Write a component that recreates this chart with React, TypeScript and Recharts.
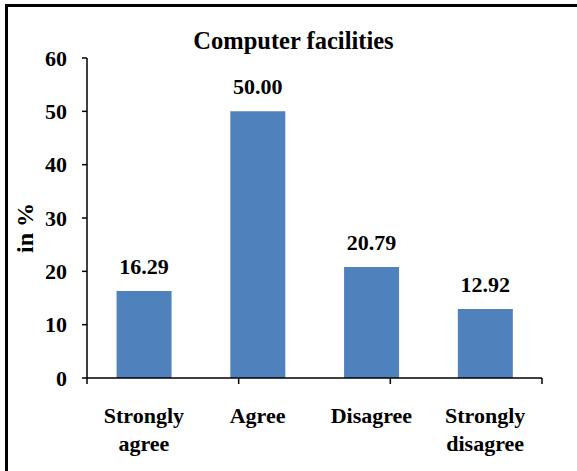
import React from 'react';
import { BarChart, Bar, XAxis, YAxis, LabelList } from 'recharts';

const categories = ['Strongly agree', 'Agree', 'Disagree', 'Strongly disagree'];
const values = [16.29, 50.0, 20.79, 12.92];
const yTicks = [0, 10, 20, 30, 40, 50, 60];
const edgeTicks = [0, 1, 2, 3, 4];
const title = 'Computer facilities';
const yLabel = 'in %';

const data = categories.map((c, i) => ({ name: c, value: values[i] }));

const FONT = "Liberation Serif, Times New Roman, serif";
const textStyle: React.CSSProperties = { fontFamily: FONT, fontWeight: 700 };

const CatTick = (props: any) => {
  const { x, y, payload } = props;
  const words = String(payload.value).split(' ');
  const lines = words.length > 1 ? [words[0], words.slice(1).join(' ')] : words;
  return (
    <text x={x} y={y} textAnchor="middle" style={textStyle} fontSize={22} fill="#000">
      {lines.map((l, i) => (
        <tspan key={i} x={x} dy={i === 0 ? 36 : 28}>{l}</tspan>
      ))}
    </text>
  );
};

const ValueLabel = (props: any) => {
  const { x, y, width, value } = props;
  return (
    <text x={x + width / 2} y={y - 17} textAnchor="middle" style={textStyle} fontSize={22} fill="#000">
      {Number(value).toFixed(2)}
    </text>
  );
};

export default function App() {
  return (
    <div style={{ position: 'fixed', left: 0, top: 0, width: 577, height: 471, overflow: 'hidden', background: '#fff', fontFamily: FONT }}>
      <div style={{ position: 'absolute', left: 5, top: 4, width: 700, height: 700, border: '3px solid #000', boxSizing: 'border-box' }} />
      <div style={{ position: 'absolute', left: 0, top: 0 }}>
        <BarChart width={577} height={471} data={data} margin={{ top: 58, right: 35, left: 0, bottom: 32 }} barCategoryGap="26%">
          <XAxis xAxisId={0} type="number" domain={[0, 4]} ticks={edgeTicks} allowDataOverflow height={1}
            axisLine={{ stroke: '#000', strokeWidth: 1.5 }} tickLine={{ stroke: '#000', strokeWidth: 1.5 }} tickSize={6} tickFormatter={() => ''} />
          <XAxis xAxisId={1} dataKey="name" height={60} axisLine={false}
            tickLine={false} tick={<CatTick />} interval={0} />
          <YAxis width={87} domain={[0, 60]} ticks={yTicks} interval={0} axisLine={{ stroke: '#000', strokeWidth: 1.5 }}
            tickLine={{ stroke: '#000', strokeWidth: 1.5 }} tickSize={5} tickMargin={15}
            tick={{ fontFamily: FONT, fontWeight: 700, fontSize: 22, fill: '#000', style: textStyle }} />
          <Bar xAxisId={1} dataKey="value" fill="#4F81BD" isAnimationActive={false}>
            <LabelList dataKey="value" content={<ValueLabel />} />
          </Bar>
        </BarChart>
      </div>
      <svg width={577} height={471} style={{ position: 'absolute', left: 0, top: 0, pointerEvents: 'none' }}>
        <text x={293.5} y={48.5} textAnchor="middle" style={textStyle} fontSize={24.5} fill="#000">{title}</text>
        <text transform="translate(33,228) rotate(-90)" textAnchor="middle" style={textStyle} fontSize={24} fill="#000">{yLabel}</text>
      </svg>
    </div>
  );
}
